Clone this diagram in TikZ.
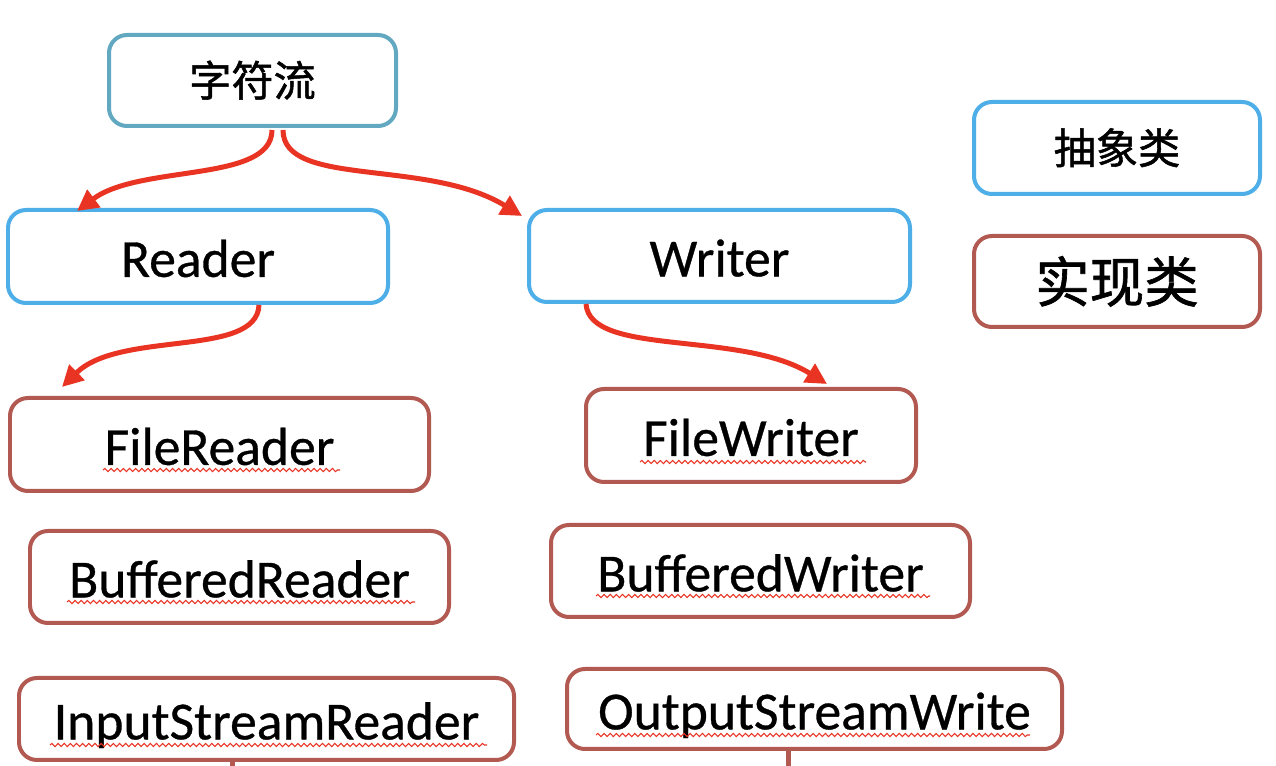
\documentclass[tikz,border=0pt]{standalone}
\usepackage{fontspec}
\setmainfont{Carlito}[FakeBold=0.6]
\newfontfamily\cjk{Noto Sans CJK SC}[FakeBold=1.2]
\usetikzlibrary{arrows.meta,decorations.pathmorphing,calc}
\definecolor{abst}{HTML}{4EAEE8}
\definecolor{topc}{HTML}{62A8C0}
\definecolor{impl}{HTML}{B25A52}
\definecolor{arr}{HTML}{E93424}
\newcommand\pxu{0.02cm}
\begin{document}
\begin{tikzpicture}[x=0.02cm,y=-0.02cm,
  box/.style={draw, line width=0.08cm, rounded corners=0.36cm, fill=white, inner sep=0pt, align=center},
  absbox/.style={box, draw=abst},
  topbox/.style={box, draw=topc},
  implbox/.style={box, draw=impl},
  lat/.style={font=\fontsize{30.5}{36}\selectfont, text height=25pt, text depth=1.8pt},
  cjks/.style={font=\cjk\fontsize{24}{28}\selectfont, text height=20pt, text depth=2pt},
  cjkl/.style={font=\cjk\fontsize{31}{36}\selectfont, text height=25.6pt, text depth=2pt},
  conn/.style={draw=arr, line width=0.1cm, -{Triangle[length=12pt,width=12pt]}},
  stub/.style={draw=impl, line width=0.1cm},
  wavy/.style={draw=arr, line width=0.6pt, decorate, decoration={snake, amplitude=0.9pt, segment length=3.5pt}}]
\useasboundingbox (0,0) rectangle (1276,766);
\fill[white] (0,0) rectangle (1276,766);

% top
\node[topbox, cjks, minimum width=287*\pxu, minimum height=91*\pxu] (zf) at (252.5,80.5) {字符流};
% abstract classes
\node[absbox, lat, minimum width=380*\pxu, minimum height=93*\pxu] (reader) at (198,256.5) {Reader};
\node[absbox, lat, minimum width=381*\pxu, minimum height=92*\pxu] (writer) at (719.5,256) {Writer};
% legend
\node[absbox, cjks, minimum width=286*\pxu, minimum height=92*\pxu] (legabs) at (1117,148) {抽象类};
\node[implbox, cjkl, minimum width=286*\pxu, minimum height=91*\pxu] (legimpl) at (1117,281.5) {实现类};
% implementation classes
\node[implbox, lat, minimum width=419*\pxu, minimum height=93*\pxu] (fr) at (219.5,444.5) {FileReader};
\node[implbox, lat, minimum width=330*\pxu, minimum height=93*\pxu] (fw) at (751,435.5) {FileWriter};
\node[implbox, lat, minimum width=419*\pxu, minimum height=92*\pxu] (br) at (239.5,577) {BufferedReader};
\node[implbox, lat, minimum width=419*\pxu, minimum height=92*\pxu] (bw) at (760.5,571) {BufferedWriter};
\node[implbox, lat, minimum width=495*\pxu, minimum height=82*\pxu] (isr) at (266.5,719) {InputStreamReader};
\node[implbox, lat, minimum width=495*\pxu, minimum height=80*\pxu] (osw) at (814.5,709) {OutputStreamWrite};

% spell-check underlines
\draw[wavy] (103,470) -- (340,470);
\draw[wavy] (640,462) -- (866,462);
\draw[wavy] (67,602) -- (415,602);
\draw[wavy] (596,596) -- (930,596);
\draw[wavy] (50,745) -- (487,745);
\draw[wavy] (596,735) -- (1030,735);

% connectors
\draw[conn] ($(zf.south)+(19.5,2)$) .. controls +(0,53) and +(63,-47) .. ($(reader.north)+(-121,3)$);
\draw[conn] ($(zf.south)+(30.5,2)$) .. controls +(0,58) and +(-95,-58) .. ($(writer.north west)+(-5,8)$);
\draw[conn] ($(reader.south)+(61,0)$) .. controls +(-2,53) and +(58,-57) .. ($(fr.north)+(-157.5,-9)$);
\draw[conn] ($(writer.south)+(-133.5,0)$) .. controls +(4,53) and +(-87,-54) .. ($(fw.north)+(76,-3)$);

% cut-off connectors at the bottom
\coordinate (isrend) at (232,770);
\coordinate (oswend) at (788,770);
\draw[stub] (isrend |- isr.south) -- (isrend);
\draw[stub] (oswend |- osw.south) -- (oswend);
\end{tikzpicture}
\end{document}
